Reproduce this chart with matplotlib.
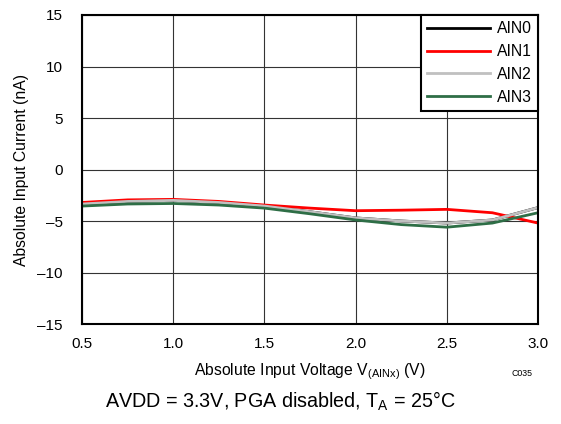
import matplotlib
matplotlib.use("Agg")
import matplotlib.pyplot as plt

plt.rcParams['font.family'] = ['Liberation Sans', 'DejaVu Sans']
plt.rcParams['axes.unicode_minus'] = True

voltage = [0.5, 0.75, 1.0, 1.25, 1.5, 1.75, 2.0, 2.25, 2.5, 2.75, 3.0]
ain0 = [-3.35, -3.1, -3.0, -3.2, -3.55, -4.1, -4.7, -5.0, -5.2, -4.9, -3.7]
ain1 = [-3.2, -2.95, -2.9, -3.1, -3.45, -3.75, -4.0, -3.95, -3.87, -4.2, -5.2]
ain2 = [-3.35, -3.1, -3.0, -3.2, -3.55, -4.1, -4.7, -5.0, -5.2, -4.9, -3.7]
ain3 = [-3.55, -3.35, -3.3, -3.45, -3.75, -4.3, -4.9, -5.35, -5.6, -5.2, -4.2]
series_names = ['AIN0', 'AIN1', 'AIN2', 'AIN3']
colors = ['#000000', '#ff0000', '#c0c0c0', '#2e6e46']
yticks = [-15, -10, -5, 0, 5, 10, 15]
xticks = [0.5, 1.0, 1.5, 2.0, 2.5, 3.0]

fig = plt.figure(figsize=(5.61, 4.24), dpi=100)
ax = fig.add_axes([82/561, 1-324/424, (538-82)/561, (324-15)/424])

for vals, name, c in zip([ain0, ain1, ain2, ain3], series_names, colors):
    ax.plot(voltage, vals, color=c, lw=2, label=name)

ax.set_xlim(0.5, 3.0)
ax.set_ylim(-15, 15)
ax.set_xticks(xticks)
ax.set_xticklabels([f"{v:.1f}" for v in xticks], fontsize=11)
ax.set_yticks(yticks)
ax.set_yticklabels([str(v).replace('-', '\u2013') for v in yticks], fontsize=11)
ax.tick_params(axis='y', length=0, pad=14)
ax.tick_params(axis='x', length=0, pad=9)
ax.grid(True, color='#333333', lw=0.8)
ax.set_axisbelow(True)
for s in ax.spines.values():
    s.set_linewidth(1.5)
    s.set_color('black')

ax.set_xlabel('Absolute Input Voltage V$_{\\mathregular{(AINx)}}$ (V)', fontsize=11.3, labelpad=8)
ax.set_ylabel('Absolute Input Current (nA)', fontsize=11.3, labelpad=6)

leg = ax.legend(loc='upper right', fontsize=11.3, frameon=True, fancybox=False,
                borderaxespad=0, handlelength=4.0, handletextpad=0.45,
                labelspacing=0.5, borderpad=0.4)
leg.get_frame().set_edgecolor('black')
leg.get_frame().set_linewidth(1.5)
leg.get_frame().set_alpha(1)

fig.text(522/561, 1-374/424, 'C035', fontsize=6.3, ha='center', va='center')
fig.text(0.5, 1-401/424, 'AVDD = 3.3V, PGA disabled, T$_{\\mathregular{A}}$ = 25°C',
         fontsize=14.2, ha='center', va='center')

fig.savefig('out.png', dpi=100)
